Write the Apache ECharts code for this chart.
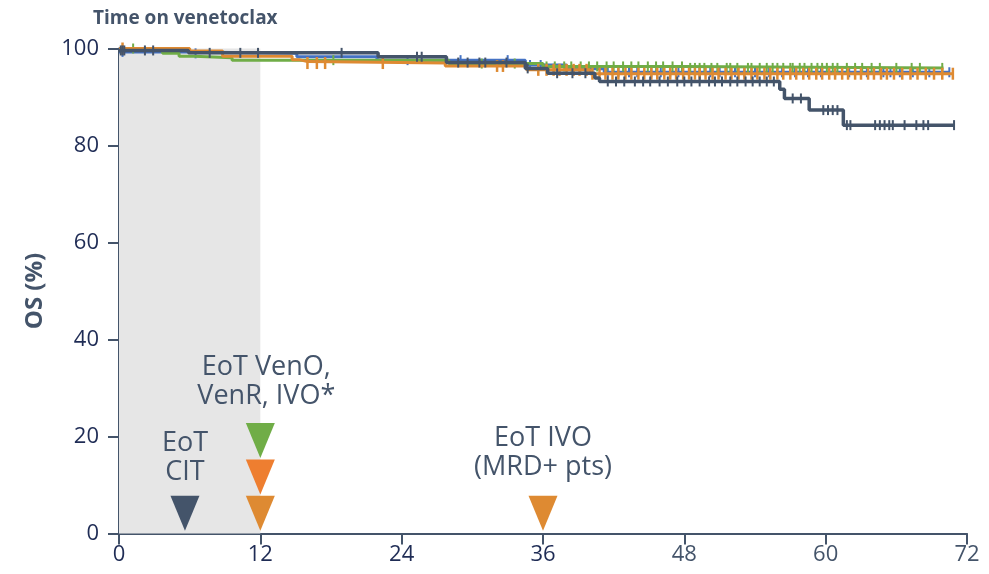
<!DOCTYPE html>
<html>
<head>
<meta charset="utf-8">
<script src="https://cdn.jsdelivr.net/npm/echarts@6/dist/echarts.min.js"></script>
<style>
html,body{margin:0;padding:0;background:#fff;}
#chart{width:989px;height:574px;}
</style>
</head>
<body>
<div id="chart"></div>
<script>
// ---- data ----
var xTicks = [0, 12, 24, 36, 48, 60, 72];
var yTicks = [0, 20, 40, 60, 80, 100];

var citTimes = [0, 5.9, 22.0, 27.8, 34.5, 36.4, 40.4, 40.8, 56.1, 56.5, 58.6, 61.5, 70.9];
var citOS    = [99.6, 99.1, 98.3, 97.1, 95.9, 94.9, 93.9, 93.2, 91.6, 89.7, 87.3, 84.2, 84.2];
var citCensor = [0.15,0.3,0.45,2.2,2.9,7.7,10.3,11.8,18.9,25.3,25.7,28.8,29.6,30.6,31.1,32.9,34.7,37.2,38.5,39.6,41.5,42.2,42.9,43.8,44.5,45.1,45.9,46.6,47.4,48.0,48.6,49.3,50.1,50.6,51.2,51.9,52.5,53.2,53.8,54.4,55.0,55.6,57.2,57.9,59.8,60.2,60.6,61.0,61.8,62.1,64.2,64.6,65.0,65.4,65.7,66.7,67.7,68.3,68.7,70.9];

var venrTimes = [0, 6.0, 15.1, 21.9, 34.5, 38.0, 41.2, 70.5];
var venrOS    = [99.3, 99.0, 98.3, 97.6, 96.6, 95.8, 95.1, 95.1];
var venrCensor = [0.3,6.5,24.5,29.0,33.0,34.9,35.8,41.5,42.4,43.3,44.0,45.2,46.0,46.8,47.5,48.4,49.3,50.2,51.0,52.3,53.1,54.0,55.2,56.3,57.4,58.5,59.6,60.8,62.0,63.5,64.9,65.5,66.3,67.4,68.8,70.5];

var venoTimes = [0, 3.7, 5.1, 6.4, 9.6, 28.0, 36.0, 48.0, 70.0];
var venoOS    = [100, 99.0, 98.4, 98.1, 97.6, 96.9, 96.3, 96.0, 96.0];
var venoCensor = [1.2,18.2,30.8,33.6,36.3,37.0,37.8,38.4,39.2,39.9,40.6,41.4,42.0,42.8,43.5,44.1,44.9,45.6,46.2,47.0,47.8,48.5,48.9,49.3,49.7,50.3,50.8,51.6,51.9,52.5,53.4,53.7,54.4,55.0,55.5,55.9,56.4,57.0,57.2,57.8,58.2,58.8,59.3,59.7,60.1,60.6,61.0,61.8,62.5,63.1,63.9,64.6,66.0,67.3,68.0,69.9];

var ivoTimes = [0, 6.0, 8.8, 14.7, 15.3, 16.0, 27.7, 34.6, 40.0, 70.8];
var ivoOS    = [100, 99.5, 98.4, 97.7, 97.3, 97.0, 96.4, 95.6, 94.8, 94.8];
var ivoCensor = [0.3,16.0,16.8,17.5,22.4,32.1,32.6,35.6,36.3,36.9,37.4,38.0,38.6,39.1,39.7,40.2,40.8,41.3,41.9,42.4,43.0,43.5,44.1,44.6,45.2,45.7,46.3,46.8,47.3,47.9,48.4,48.9,49.3,49.8,50.4,50.9,51.5,52.0,52.6,53.1,53.7,54.2,54.8,55.3,55.9,56.4,57.0,57.5,58.1,58.6,59.2,59.7,60.3,60.8,61.4,61.9,62.5,63.0,63.6,64.1,64.7,65.2,65.8,66.5,67.2,67.8,68.5,69.2,69.9,70.8];

// end-of-treatment markers: [month, y-position]
var eotCit   = [5.6, 4.2];
var eotVenO  = [12, 19.2];
var eotVenR  = [12, 11.65];
var eotIvo12 = [12, 4.2];
var eotIvo36 = [36, 4.2];

var titleText = 'Time on venetoclax';
var yName = 'OS (%)';

// ---- helpers ----
function pairs(t, v){ return t.map(function(x,i){ return [x, v[i]]; }); }
function stepAt(t, v, x){
  var s = v[0];
  for (var i=0;i<t.length;i++){ if (t[i] <= x) s = v[i]; }
  return s;
}
function censorPts(c, t, v){ return c.map(function(x){ return [x, stepAt(t, v, x)]; }); }

var C_DARK = '#44546a', C_BLUE = '#4472c4', C_GREEN = '#70ad47', C_ORANGE = '#de8a32', C_ORANGE2 = '#ee7e30';
var NAVY = '#1f2c55';
var FONT = '"Open Sans", "Noto Sans", sans-serif';
var TRI = 'path://M0,0L2,0L1,2Z';

function lineSeries(name, t, v, color, width, z){
  return {name:name, type:'line', step:'end', data:pairs(t,v), showSymbol:false, symbol:'none',
    lineStyle:{color:color, width:width, opacity:1}, z:z, silent:true};
}
function censorSeries(name, c, t, v, color, size, z){
  return {name:name+' censored', type:'scatter', data:censorPts(c,t,v), symbol:'rect', symbolSize:size,
    itemStyle:{color:color, opacity:1}, z:z, silent:true};
}
function triSeries(pt, color, label, dist, off){
  var s = {type:'scatter', data:[pt], symbol:TRI, symbolSize:[29,35], itemStyle:{color:color, opacity:1}, z:20, silent:true};
  if (label){
    s.label = {show:true, position:'top', distance:dist, offset:off||[0,0], formatter:label, opacity:1,
      fontSize:27, lineHeight:29, color:C_DARK, fontFamily:FONT, align:'center'};
  }
  return s;
}

var chart = echarts.init(document.getElementById('chart'), null, {renderer:'canvas'});
var series = [];
var blueLine = lineSeries('VenR', venrTimes, venrOS, C_BLUE, 3, 2);
blueLine.markArea = {silent:true, itemStyle:{color:'#e6e6e6', opacity:1}, data:[[{xAxis:0, yAxis:0},{xAxis:12, yAxis:100}]]};
series.push(blueLine);
series.push(censorSeries('VenR', venrCensor, venrTimes, venrOS, C_BLUE, [2,10], 3));
series.push(lineSeries('VenO', venoTimes, venoOS, C_GREEN, 3, 4));
series.push(censorSeries('VenO', venoCensor, venoTimes, venoOS, C_GREEN, [2,10], 5));
series.push(lineSeries('IVO', ivoTimes, ivoOS, C_ORANGE, 3, 6));
series.push(censorSeries('IVO', ivoCensor, ivoTimes, ivoOS, C_ORANGE, [2.5,12], 7));
series.push(lineSeries('CIT', citTimes, citOS, C_DARK, 3.5, 8));
series.push(censorSeries('CIT', citCensor, citTimes, citOS, C_DARK, [2,10], 9));
series.push(triSeries(eotCit, C_DARK, 'EoT\nCIT', 9));
series.push(triSeries(eotVenO, C_GREEN, 'EoT VenO,\nVenR, IVO*', 12, [6,0]));
series.push(triSeries(eotVenR, C_ORANGE2));
series.push(triSeries(eotIvo12, C_ORANGE));
series.push(triSeries(eotIvo36, C_ORANGE, 'EoT IVO\n(MRD+ pts)', 14));

chart.setOption({
  animation:false,
  backgroundColor:'#ffffff',
  title:{text:titleText, left:88, top:4, textStyle:{fontSize:19, fontWeight:'bold', color:C_DARK, fontFamily:FONT}},
  grid:{left:119, right:22, top:48.5, bottom:40.5, containLabel:false},
  xAxis:{type:'value', min:xTicks[0], max:xTicks[xTicks.length-1], interval:12,
    axisLine:{show:true, lineStyle:{color:C_DARK, width:2}},
    axisTick:{show:true, length:11, lineStyle:{color:C_DARK, width:2}},
    splitLine:{show:false},
    axisLabel:{fontSize:22, margin:10, fontFamily:FONT,
      color:function(v){ return (+v) <= 36 ? NAVY : C_DARK; }}},
  yAxis:{type:'value', min:yTicks[0], max:yTicks[yTicks.length-1], interval:20,
    name:yName, nameLocation:'middle', nameRotate:90, nameGap:72,
    nameTextStyle:{fontSize:24, fontWeight:'bold', color:C_DARK, fontFamily:FONT},
    axisLine:{show:true, lineStyle:{color:C_DARK, width:2}},
    axisTick:{show:true, length:11, lineStyle:{color:C_DARK, width:2}},
    splitLine:{show:false},
    axisLabel:{fontSize:22, margin:20, color:NAVY, fontFamily:FONT}},
  series:series
});
</script>
</body>
</html>
